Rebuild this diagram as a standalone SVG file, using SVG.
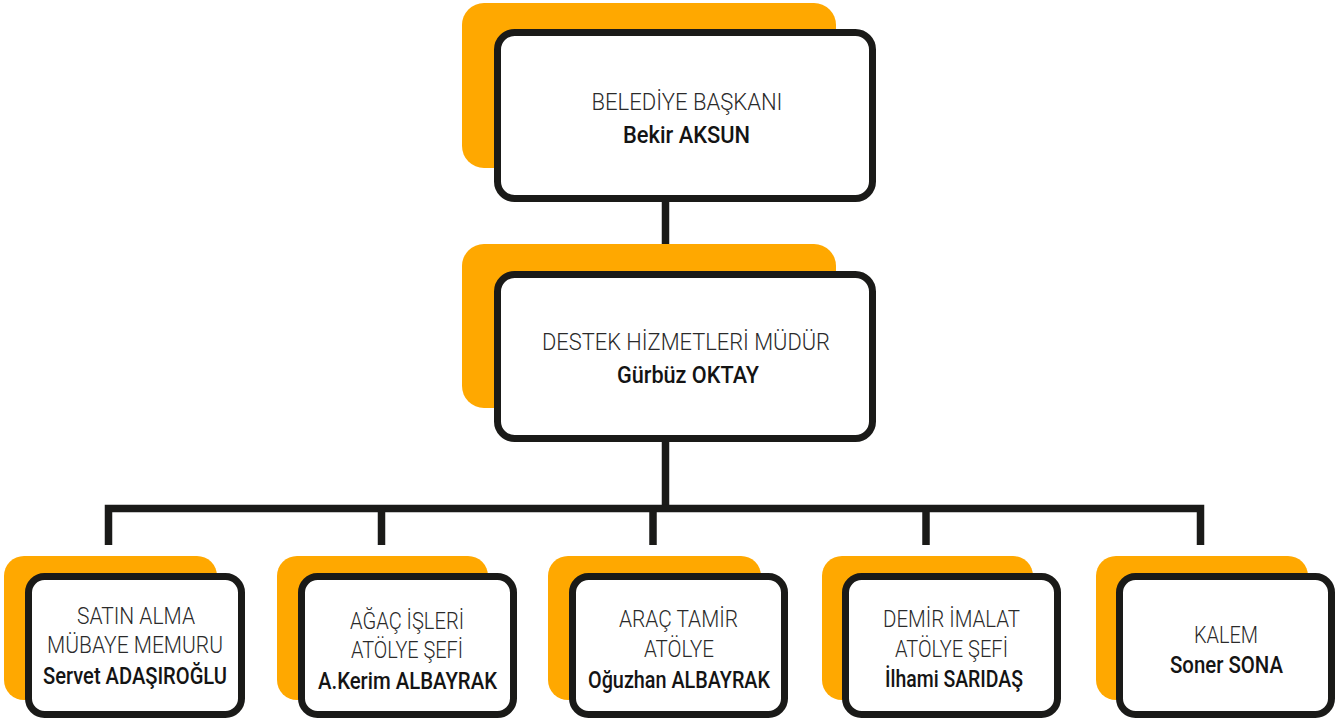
<svg xmlns="http://www.w3.org/2000/svg" width="1344" height="720" viewBox="0 0 1344 720">
  <style>
    .bg { fill: #FFA800; }
    .card { fill: #FFFFFF; stroke: #1A1A18; stroke-width: 7; }
    .link { fill: none; stroke: #1A1A18; stroke-width: 7.5; stroke-linecap: butt; stroke-linejoin: miter; }
    text { font-family: "Roboto", "Liberation Sans", sans-serif; font-size: 24px; text-anchor: middle; }
    .t { font-weight: 300; fill: #2A2A2A; }
    .n { font-weight: 500; fill: #141414; }
  </style>
  <rect width="1344" height="720" fill="#FFFFFF"/>

  <g id="connectors">
    <path class="link" d="M665.5 202 V271"/>
    <path class="link" d="M665.5 442 V509"/>
    <path class="link" d="M108.5 545 V508.5 H1200.5 V545"/>
    <path class="link" d="M381.5 508.5 V545"/>
    <path class="link" d="M653 508.5 V545"/>
    <path class="link" d="M926 508.5 V545"/>
  </g>

  <g id="node-baskan">
    <rect class="bg" x="462" y="3" width="374" height="165" rx="22"/>
    <rect class="card" x="497.5" y="32.5" width="375" height="166" rx="17"/>
    <text class="t" x="687" y="110" textLength="191" lengthAdjust="spacingAndGlyphs">BELEDİYE BAŞKANI</text>
    <text class="n" x="686.5" y="143" textLength="127" lengthAdjust="spacingAndGlyphs">Bekir AKSUN</text>
  </g>

  <g id="node-mudur">
    <rect class="bg" x="462" y="244" width="374" height="164" rx="22"/>
    <rect class="card" x="497.5" y="274.5" width="375" height="164" rx="17"/>
    <text class="t" x="686" y="350" textLength="288" lengthAdjust="spacingAndGlyphs">DESTEK HİZMETLERİ MÜDÜR</text>
    <text class="n" x="688" y="383" textLength="142" lengthAdjust="spacingAndGlyphs">Gürbüz OKTAY</text>
  </g>

  <g id="node-satinalma">
    <rect class="bg" x="4" y="556" width="213" height="144" rx="20"/>
    <rect class="card" x="28.5" y="576.5" width="213" height="138" rx="16"/>
    <text class="t" x="136" y="624" textLength="118" lengthAdjust="spacingAndGlyphs">SATIN ALMA</text>
    <text class="t" x="135" y="653" textLength="176" lengthAdjust="spacingAndGlyphs">MÜBAYE MEMURU</text>
    <text class="n" x="135" y="684" textLength="184" lengthAdjust="spacingAndGlyphs">Servet ADAŞIROĞLU</text>
  </g>

  <g id="node-agac">
    <rect class="bg" x="277" y="556" width="211" height="144" rx="20"/>
    <rect class="card" x="301.5" y="576.5" width="212" height="138" rx="16"/>
    <text class="t" x="407" y="629" textLength="114" lengthAdjust="spacingAndGlyphs">AĞAÇ İŞLERİ</text>
    <text class="t" x="407" y="658" textLength="112" lengthAdjust="spacingAndGlyphs">ATÖLYE ŞEFİ</text>
    <text class="n" x="407.5" y="689" textLength="179" lengthAdjust="spacingAndGlyphs">A.Kerim ALBAYRAK</text>
  </g>

  <g id="node-arac">
    <rect class="bg" x="548" y="556" width="213" height="144" rx="20"/>
    <rect class="card" x="572.5" y="576.5" width="212" height="138" rx="16"/>
    <text class="t" x="678.5" y="627" textLength="119" lengthAdjust="spacingAndGlyphs">ARAÇ TAMİR</text>
    <text class="t" x="679" y="657" textLength="70" lengthAdjust="spacingAndGlyphs">ATÖLYE</text>
    <text class="n" x="679" y="688" textLength="182" lengthAdjust="spacingAndGlyphs">Oğuzhan ALBAYRAK</text>
  </g>

  <g id="node-demir">
    <rect class="bg" x="822" y="556" width="211" height="144" rx="20"/>
    <rect class="card" x="845.5" y="576.5" width="212" height="138" rx="16"/>
    <text class="t" x="951.5" y="627" textLength="137" lengthAdjust="spacingAndGlyphs">DEMİR İMALAT</text>
    <text class="t" x="951.5" y="657" textLength="113" lengthAdjust="spacingAndGlyphs">ATÖLYE ŞEFİ</text>
    <text class="n" x="954" y="687" textLength="138" lengthAdjust="spacingAndGlyphs">İlhami SARIDAŞ</text>
  </g>

  <g id="node-kalem">
    <rect class="bg" x="1096" y="556" width="212" height="144" rx="20"/>
    <rect class="card" x="1119.5" y="576.5" width="212" height="138" rx="16"/>
    <text class="t" x="1226" y="643" textLength="64" lengthAdjust="spacingAndGlyphs">KALEM</text>
    <text class="n" x="1226.5" y="673" textLength="113" lengthAdjust="spacingAndGlyphs">Soner SONA</text>
  </g>
</svg>
